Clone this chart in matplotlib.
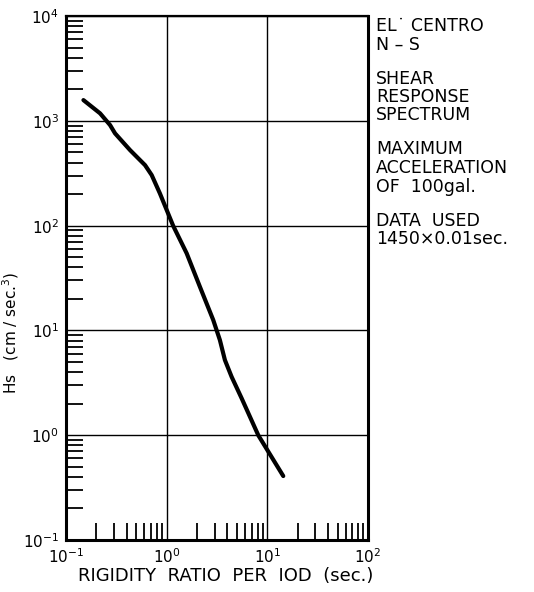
import numpy as np
import matplotlib
matplotlib.use('Agg')
import matplotlib.pyplot as plt
from matplotlib.ticker import LogLocator, NullFormatter

# ----------------------------- DATA ------------------------------------------
# Curve (rigidity ratio [sec], Hs [cm/sec^3])
ratio = [0.149, 0.218, 0.274, 0.307, 0.433, 0.610, 0.710, 0.857, 1.16, 1.58,
         2.14, 2.90, 3.38, 3.79, 4.42, 5.56, 8.13, 14.4]
hs = [1579, 1180, 912, 760, 526, 378, 304, 203, 99.8, 54.5,
      26.1, 12.6, 8.09, 5.22, 3.61, 2.25, 1.0, 0.408]

# Side notes, one list per block
notes = [["EL\u02d9 CENTRO", "N \u2013 S"],
         ["SHEAR", "RESPONSE", "SPECTRUM"],
         ["MAXIMUM", "ACCELERATION", "OF  100gal."],
         ["DATA  USED", "1450\u00d70.01sec."]]

# ----------------------------- PLOTTING --------------------------------------
plt.rcParams['font.family'] = ['DejaVu Sans']
fig = plt.figure(figsize=(5.34, 5.92), dpi=100)
ax = fig.add_axes([0.1236, 0.0878, 0.5655, 0.885])

ax.plot(ratio, hs, color='black', lw=3.0, solid_capstyle='round',
        solid_joinstyle='round')
ax.set_xscale('log')
ax.set_yscale('log')
ax.set_xlim(0.1, 100)
ax.set_ylim(0.1, 1e4)

ax.grid(True, which='major', color='black', lw=1.0)
ax.xaxis.set_major_locator(LogLocator(base=10))
ax.yaxis.set_major_locator(LogLocator(base=10))
ax.xaxis.set_minor_locator(LogLocator(base=10, subs=np.arange(2, 10)))
ax.yaxis.set_minor_locator(LogLocator(base=10, subs=np.arange(2, 10)))
ax.xaxis.set_minor_formatter(NullFormatter())
ax.yaxis.set_minor_formatter(NullFormatter())
ax.tick_params(which='major', length=0, labelsize=11, pad=5)
ax.tick_params(which='minor', direction='in', length=12.5, width=1.3,
               top=False, right=False)

for side in ['left', 'bottom', 'right']:
    ax.spines[side].set_linewidth(2.2)
ax.spines['top'].set_linewidth(1.6)

ax.set_xlabel('RIGIDITY  RATIO  PER  IOD  (sec.)', fontsize=13)
ax.xaxis.set_label_coords(0.53, -0.052)
ax.set_ylabel('Hs   (cm / sec.$^3$)', fontsize=11)
ax.yaxis.set_label_coords(-0.15, 0.395)

# side notes: line spacing ~18.5 px, extra gap between blocks
y = 592 - 26
for block in notes:
    for line in block:
        fig.text(376 / 534, y / 592, line, fontsize=12.5, va='center', ha='left')
        y -= 18.5
    y -= 15.5

fig.savefig('out.png', dpi=100)
